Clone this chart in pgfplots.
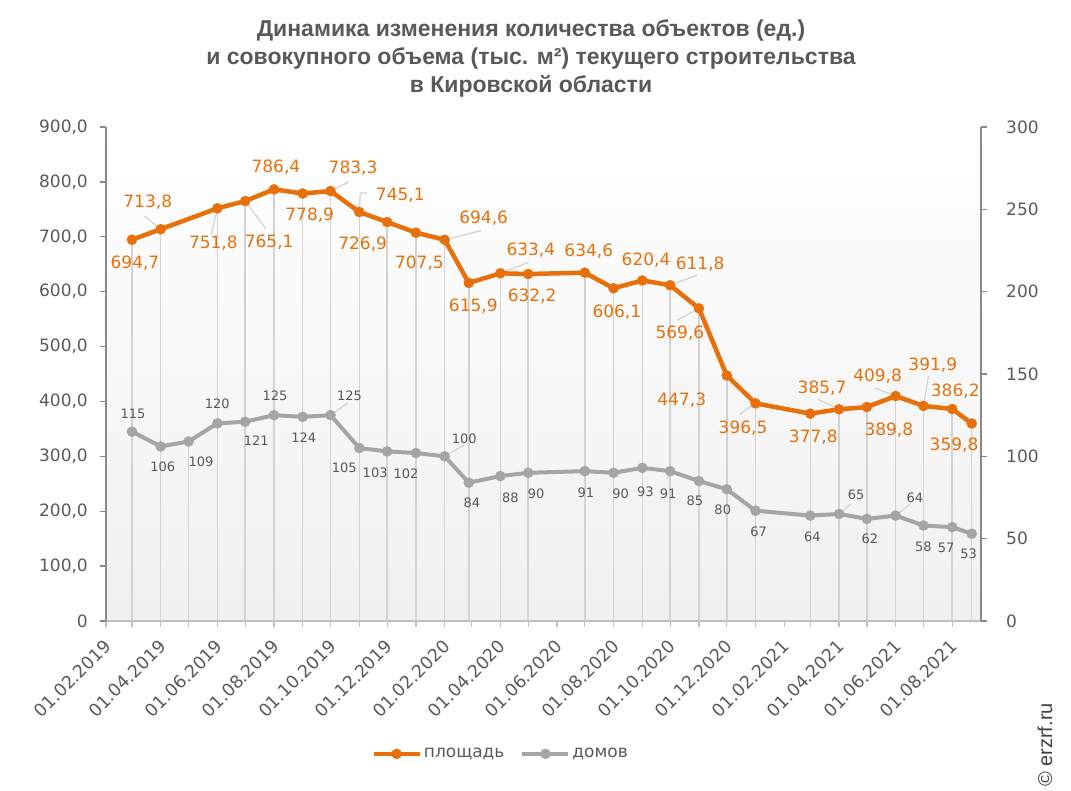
\documentclass[border=0pt]{standalone}
\usepackage{pgfplots}
\pgfplotsset{compat=1.18}
\usepackage{pgfplotstable}
\usepackage{fontspec}
\setmainfont{DejaVu Sans}
\newfontfamily\titlefont{Liberation Sans}
\newfontfamily\credfont{Liberation Sans}
\definecolor{orangeC}{HTML}{E8700A}
\definecolor{grayC}{HTML}{A5A5A5}
\definecolor{textC}{HTML}{595959}
\definecolor{dropC}{HTML}{D2D2D2}
\definecolor{axisC}{HTML}{888888}
\definecolor{xaxisC}{HTML}{BFBFBF}
\definecolor{leadC}{HTML}{D5D5D5}

% days since 01.02.2019
\pgfplotstableread{
x y dx ty bg
28 694.7 3 -23 0
59 713.8 -13 27 0
120 751.8 -4 -35 0
150 765.1 24 -41.5 0
181 786.4 2 22 0
212 778.9 7 -22 0
242 783.3 22.5 22.5 0
273 745.1 41 17 0
303 726.9 -24.5 -22 0
334 707.5 3.5 -30.5 0
365 694.6 39 22 0
391 615.9 4.5 -23.5 0
425 633.4 30.5 23 0
455 632.2 4 -21.7 0
516 634.6 4 21 0
547 606.1 3.3 -23.5 0
578 620.4 3.7 20.7 0
608 611.8 30 21.3 0
639 569.6 -19 -25 0
669 447.3 -45 -25 0
700 396.5 -12.5 -25 0
759 377.8 3 -23.3 0
790 385.7 -17 21.3 0
820 389.8 22 -23.3 0
851 409.8 -18 19.7 0
881 391.9 9.3 40.5 0
912 386.2 3 17.6 1
933 359.8 -17.7 -21.8 0
}\area

\pgfplotstableread{
x y dx ty
28 115 1 17.7
59 106 2 -20.5
89 109 12.5 -20
120 120 0 19.3
150 121 11 -19
181 125 1 19.2
212 124 1 -21
242 125 19 19.2
273 105 -15 -20
303 103 -12 -21
334 102 -10 -21
365 100 19.5 18
391 84 3 -20
425 88 10 -22
455 90 8 -21
516 91 1 -22
547 90 7 -21
578 93 3 -24
608 91 -2 -23
639 85 -4 -20
669 80 -4 -20.6
700 67 3 -21
759 64 2 -21
790 65 17 19
820 62 3 -20
851 64 19.3 17.8
881 58 0 -21
912 57 -6 -21
933 53 -3 -20
}\houses

\tikzset{leader/.style={draw=leadC, line width=1.3bp}}
\pgfplotsset{
  common/.style={
    at={(106bp,170bp)}, anchor=south west,
    scale only axis, width=875bp, height=494bp,
    xmin=0, xmax=943, clip=false,
    tick align=outside, major tick length=6bp, minor tick length=6bp,
    tick label style={font=\fontsize{17bp}{19bp}\selectfont, text=textC},
  },
}

\begin{document}
\begin{tikzpicture}
\useasboundingbox (0bp,0bp) rectangle (1071bp,791bp);
\node[font=\titlefont\bfseries\fontsize{23bp}{28bp}\selectfont, text=textC, align=center] at (531bp,733bp)
 {Динамика изменения количества объектов (ед.)\\и совокупного объема (тыс. м²) текущего строительства\\в Кировской области};

\begin{axis}[common,
  ymin=0, ymax=900,
  axis x line*=bottom, axis y line*=left,
  axis background/.style={shade, top color=white, bottom color=gray!12},
  xtick={0,59,120,181,242,303,365,425,486,547,608,669,731,790,851,912},
  xticklabels={01.02.2019,01.04.2019,01.06.2019,01.08.2019,01.10.2019,01.12.2019,01.02.2020,01.04.2020,01.06.2020,01.08.2020,01.10.2020,01.12.2020,01.02.2021,01.04.2021,01.06.2021,01.08.2021},
  minor xtick={28,89,150,212,273,334,394,455,516,578,639,700,759,820,881},
  ytick={0,100,...,900},
  yticklabels={0,{100,0},{200,0},{300,0},{400,0},{500,0},{600,0},{700,0},{800,0},{900,0}},
  x axis line style={draw=xaxisC, line width=1.3bp, -},
  y axis line style={draw=axisC, line width=1.3bp, -},
  xtick style={draw=xaxisC, line width=1.3bp},
  minor tick style={draw=xaxisC, line width=1.3bp},
  ytick style={draw=axisC, line width=1.3bp},
  xticklabel style={xshift=2bp, yshift=-16bp, rotate=45, anchor=east, inner sep=0pt, font=\fontsize{17.5bp}{19bp}\selectfont},
  yticklabel style={anchor=east, inner sep=0pt, xshift=-12bp},
]
\addplot[ycomb, draw=dropC, line width=1.5bp, no markers, forget plot] table[x=x,y=y]{\area};
\draw[leader] (axis cs:59,713.8) -- ++(-16bp,13bp);
\draw[leader] (axis cs:120,751.8) -- ++(-6bp,-26bp);
\draw[leader] (axis cs:150,765.1) -- ++(21bp,-28bp);
\draw[leader] (axis cs:242,783.3) -- ++(18bp,9bp);
\draw[leader] (axis cs:273,745.1) -- ++(1bp,19bp) -- ++(7bp,0bp);
\draw[leader] (axis cs:365,694.6) -- ++(36bp,9bp);
\draw[leader] (axis cs:425,633.4) -- ++(28bp,11bp);
\draw[leader] (axis cs:608,611.8) -- ++(27bp,10bp);
\draw[leader] (axis cs:639,569.6) -- ++(-22bp,-12bp);
\draw[leader] (axis cs:700,396.5) -- ++(-16bp,-11bp);
\draw[leader] (axis cs:790,385.7) -- ++(-21bp,10bp);
\draw[leader] (axis cs:851,409.8) -- ++(-21bp,8bp);
\draw[leader] (axis cs:881,391.9) -- ++(5bp,30bp);
\addplot[draw=orangeC, line width=4.5bp, line join=round, mark=*, mark size=5bp,
  mark options={fill=orangeC, draw=orangeC, line width=0.5bp},
  visualization depends on={\thisrow{dx}\as\dx},
  visualization depends on={\thisrow{ty}\as\ty},
  visualization depends on={\thisrow{bg}\as\bgflag},
  nodes near coords={\pgfmathprintnumber[fixed,fixed zerofill,precision=1,use comma,assume math mode=true]{\pgfplotspointmeta}},
  every node near coord/.append style={anchor=center, inner sep=1bp, font=\fontsize{17bp}{19bp}\selectfont, text=orangeC, xshift=\dx bp, yshift=\ty bp, fill=white, fill opacity=\bgflag, text opacity=1},
] table[x=x,y=y]{\area};
\end{axis}

\begin{axis}[common,
  ymin=0, ymax=300,
  axis x line=none, axis y line*=right,
  ytick={0,50,...,300},
  yticklabels={0,50,100,150,200,250,300},
  y axis line style={draw=axisC, line width=1.3bp, -},
  ytick style={draw=axisC, line width=1.3bp},
  yticklabel style={anchor=west, inner sep=0pt, xshift=19bp},
  legend style={at={(0.451,-0.269)}, anchor=center, draw=none, fill=none,
    font=\fontsize{17bp}{19bp}\selectfont, text=textC,
    /tikz/every even column/.append style={column sep=14bp}},
  legend columns=2,
  legend image code/.code={\draw[mark repeat=2,mark phase=2,#1] plot coordinates {(0bp,0bp) (23bp,0bp) (46bp,0bp)};},
]
\addlegendimage{draw=orangeC, line width=4.5bp, mark=*, mark size=5bp, mark options={fill=orangeC, draw=orangeC, line width=0.5bp}}
\addlegendentry{площадь}
\addplot[ycomb, draw=dropC, line width=1.5bp, no markers, forget plot] table[x=x,y=y]{\houses};
\draw[leader] (axis cs:242,125) -- ++(17bp,12bp);
\draw[leader] (axis cs:365,100) -- ++(19bp,11bp);
\draw[leader] (axis cs:790,65) -- ++(12bp,10bp);
\draw[leader] (axis cs:851,64) -- ++(14bp,11bp);
\draw[leader] (axis cs:608,91) -- ++(-3bp,-8bp);
\addplot[draw=grayC, line width=4bp, line join=round, mark=*, mark size=5bp,
  mark options={fill=grayC, draw=grayC, line width=0.5bp},
  visualization depends on={\thisrow{dx}\as\dx},
  visualization depends on={\thisrow{ty}\as\ty},
  nodes near coords={\pgfmathprintnumber[fixed,precision=0,assume math mode=true]{\pgfplotspointmeta}},
  every node near coord/.append style={anchor=center, inner sep=1bp, font=\fontsize{13bp}{15bp}\selectfont, text=textC, xshift=\dx bp, yshift=\ty bp},
] table[x=x,y=y]{\houses};
\addlegendentry{домов}
\end{axis}

\node[rotate=90, font=\credfont\fontsize{20bp}{22bp}\selectfont, text=black!75] at (1045bp,46bp) {© erzrf.ru};
\end{tikzpicture}
\end{document}
